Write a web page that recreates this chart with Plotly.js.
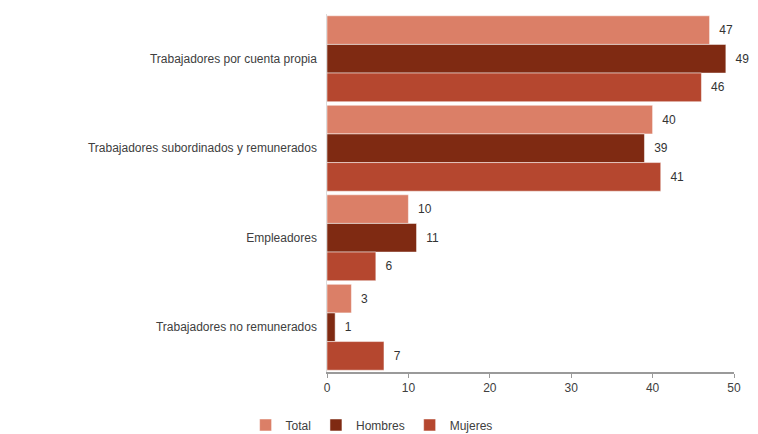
<!DOCTYPE html>
<html><head><meta charset="utf-8">
<script src="https://cdn.plot.ly/plotly-3.0.1.min.js"></script>
<style>html,body{margin:0;padding:0;background:#fff}#c{width:758px;height:434px}</style>
</head><body><div id="c"></div>
<script>
const categories = ["Trabajadores por cuenta propia","Trabajadores subordinados y remunerados","Empleadores","Trabajadores no remunerados"];
const total = [47, 40, 10, 3];
const hombres = [49, 39, 11, 1];
const mujeres = [46, 41, 6, 7];
const seriesNames = ["Total","Hombres","Mujeres"];
const colors = ["#DB7F67","#7F2A12","#B5472F"];
const xTicks = [0,10,20,30,40,50];

const data = [total, hombres, mujeres].map((vals, i) => ({
  type: 'bar', orientation: 'h', name: seriesNames[i],
  y: categories, x: vals,
  marker: {color: colors[i], line: {color: '#ffffff', width: 0.5}},
  text: vals.map(v => '\u00a0\u00a0' + v), textposition: 'outside', cliponaxis: false,
  textfont: {family: 'Liberation Sans, Arial, sans-serif', size: 12, color: '#333'}
}));

const layout = {
  width: 758, height: 434,
  margin: {l: 327, r: 24, t: 14, b: 62, autoexpand: false},
  barmode: 'group', bargap: 0.04, bargroupgap: 0,
  paper_bgcolor: '#fff', plot_bgcolor: '#fff',
  font: {family: 'Liberation Sans, Arial, sans-serif', size: 12, color: '#404040'},
  xaxis: {range: [0, 50], tickvals: xTicks, showgrid: false, zeroline: false,
    showline: true, linecolor: '#9a9a9a', linewidth: 1.5, ticks: 'outside', ticklen: 4,
    tickcolor: '#9a9a9a', tickfont: {size: 12, color: '#404040'}},
  yaxis: {autorange: 'reversed', showgrid: false, zeroline: false, showline: true,
    linecolor: '#dcdcdc', ticks: '', ticksuffix: '  ', tickfont: {size: 12, color: '#404040'}},
  showlegend: true,
  legend: {orientation: 'h', x: -0.2, xanchor: 'left', y: -0.148, yanchor: 'middle',
    font: {size: 12, color: '#404040'}, itemwidth: 30, traceorder: 'normal',
    tracegroupgap: 0, bgcolor: 'rgba(0,0,0,0)'}
};
Plotly.newPlot('c', data, layout, {displayModeBar: false, staticPlot: true});
</script></body></html>
